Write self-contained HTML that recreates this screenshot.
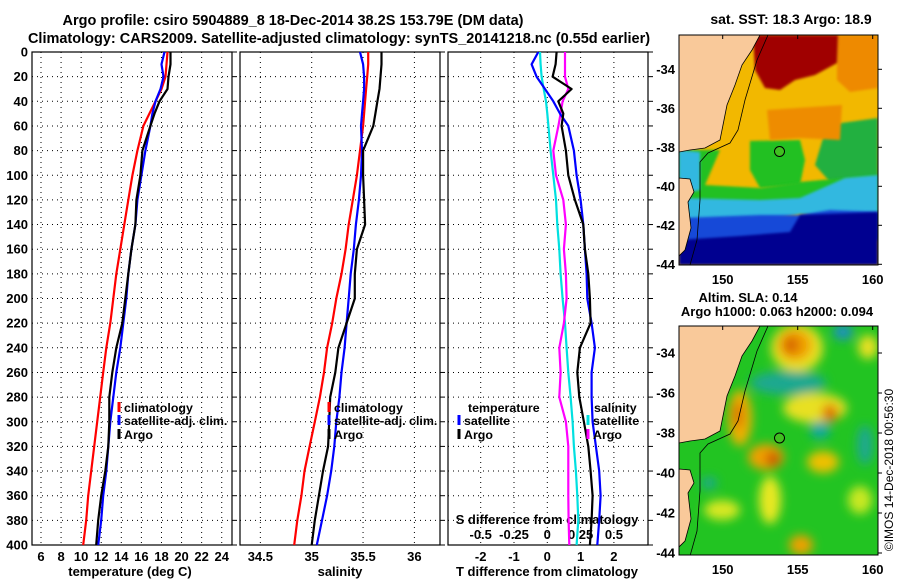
<!DOCTYPE html>
<html><head><meta charset="utf-8"><title>Argo profile</title>
<style>
html,body{margin:0;padding:0;background:#fff;}
svg{display:block;font-family:"Liberation Sans",sans-serif;font-weight:bold;}
</style></head>
<body>
<svg id="chart" width="900" height="580" viewBox="0 0 900 580" xmlns="http://www.w3.org/2000/svg">
<defs>
<clipPath id="clipM1"><rect x="679" y="35" width="199" height="230"/></clipPath>
<clipPath id="clipM2"><rect x="679" y="326" width="199" height="229"/></clipPath>
<filter id="blur" x="-30%" y="-30%" width="160%" height="160%"><feGaussianBlur stdDeviation="5"/></filter>
<filter id="blur2"><feGaussianBlur stdDeviation="1.2"/></filter>
</defs>
<text x="293" y="25" font-size="14.5" text-anchor="middle">Argo profile: csiro 5904889_8 18-Dec-2014 38.2S 153.79E (DM data)</text>
<text x="339" y="43" font-size="14.5" text-anchor="middle">Climatology: CARS2009. Satellite-adjusted climatology: synTS_20141218.nc (0.55d earlier)</text>

<!-- SST map -->
<g>
<text x="791" y="24" font-size="14" text-anchor="middle">sat. SST: 18.3 Argo: 18.9</text>
<g clip-path="url(#clipM1)">
<rect x="679" y="35" width="199" height="230" fill="#f2b800"/>
<polygon fill="#22c022" filter="url(#blur2)" points="750,141 800,140 805,160 800,185 760,188 750,170"/>
<polygon fill="#22b040" filter="url(#blur2)" points="827,125 878,118 878,180 830,182 815,165"/>
<polygon fill="#22c022" filter="url(#blur2)" points="679,150 720,150 705,185 760,188 800,182 878,175 878,212 679,212"/>
<polygon fill="#ee8c00" filter="url(#blur2)" points="767,110 842,105 840,140 800,138 770,140"/>
<polygon fill="#ee8a00" filter="url(#blur2)" points="837,35 878,35 878,88 850,92 837,80"/>
<polygon fill="#a00000" filter="url(#blur2)" points="753,35 838,35 837,63 815,75 795,80 780,90 765,88 755,70"/>
<polygon fill="#30b8e0" filter="url(#blur2)" points="679,150 700,152 700,190 679,195"/>
<polygon fill="#30b8e0" filter="url(#blur2)" points="679,198 760,200 800,198 845,178 878,175 878,222 800,214 760,222 679,225"/>
<polygon fill="#1848d8" filter="url(#blur2)" points="679,218 760,215 800,215 830,210 878,212 878,240 679,244"/>
<polygon fill="#000090" filter="url(#blur2)" points="679,240 740,236 790,232 800,215 878,212 878,265 679,265"/>
<polygon fill="#f9c99a" stroke="#000" stroke-width="0.8" points="679,35 760,35 752,50 742,65 735,85 727,105 723,125 720,140 705,148 690,150 679,152"/>
<polygon fill="#f9c99a" stroke="#000" stroke-width="0.8" points="679,178 690,179 694,192 688,202 691,228 685,250 679,256"/>
<polyline fill="none" stroke="#000" stroke-width="0.8" points="768,35 757,60 745,100 738,130 730,143 708,153 700,162 700,200 697,240 690,265"/>
</g>
<rect x="679" y="35" width="199" height="230" fill="none" stroke="#000" stroke-width="1"/>
<circle cx="779.5" cy="151.5" r="5" fill="#40c020" stroke="#000" stroke-width="1"/>
</g>

<!-- SLA map -->
<g>
<text x="748" y="302" font-size="13" text-anchor="middle">Altim. SLA: 0.14</text>
<text x="777" y="316" font-size="13" text-anchor="middle">Argo h1000: 0.063 h2000: 0.094</text>
<g clip-path="url(#clipM2)">
<rect x="679" y="326" width="199" height="229" fill="#22c422"/>
<g filter="url(#blur)">
<ellipse cx="797" cy="348" rx="26" ry="24" fill="#e8e020"/>
<ellipse cx="795" cy="345" rx="17" ry="16" fill="#f0a000"/>
<ellipse cx="791" cy="345" rx="8" ry="9" fill="#d86800"/>
<ellipse cx="843" cy="332" rx="10" ry="8" fill="#1a90c0"/>
<ellipse cx="868" cy="347" rx="10" ry="12" fill="#e8e020"/>
<ellipse cx="788" cy="383" rx="38" ry="12" fill="#1aa890"/>
<ellipse cx="740" cy="418" rx="12" ry="28" fill="#f0b000"/>
<ellipse cx="738" cy="415" rx="5" ry="14" fill="#d87000"/>
<ellipse cx="766" cy="457" rx="18" ry="13" fill="#f0a000"/>
<ellipse cx="773" cy="459" rx="7" ry="7" fill="#c85000"/>
<ellipse cx="815" cy="408" rx="32" ry="15" fill="#e8e020"/>
<ellipse cx="830" cy="413" rx="8" ry="9" fill="#e07000"/>
<ellipse cx="820" cy="430" rx="10" ry="9" fill="#10a8a0"/>
<ellipse cx="823" cy="462" rx="16" ry="11" fill="#f0c000"/>
<ellipse cx="770" cy="500" rx="11" ry="24" fill="#e8e820"/>
<ellipse cx="722" cy="510" rx="18" ry="10" fill="#d8e820"/>
<ellipse cx="709" cy="483" rx="8" ry="6" fill="#1aa890"/>
<ellipse cx="801" cy="545" rx="12" ry="10" fill="#f0a000"/>
<ellipse cx="860" cy="500" rx="12" ry="14" fill="#c8e820"/>
<ellipse cx="865" cy="445" rx="8" ry="20" fill="#1aa890"/>
</g>
<g transform="translate(0,291)">
<polygon fill="#f9c99a" stroke="#000" stroke-width="0.8" points="679,35 760,35 752,50 742,65 735,85 727,105 723,125 720,140 705,148 690,150 679,152"/>
<polygon fill="#f9c99a" stroke="#000" stroke-width="0.8" points="679,178 690,179 694,192 688,202 691,228 685,250 679,256"/>
<polyline fill="none" stroke="#000" stroke-width="0.8" points="768,35 757,60 745,100 738,130 730,143 708,153 700,162 700,200 697,240 690,265"/>
</g>
</g>
<rect x="679" y="326" width="199" height="229" fill="none" stroke="#000" stroke-width="1"/>
<circle cx="779.5" cy="438" r="5" fill="#40c020" stroke="#000" stroke-width="1"/>
</g>
<text transform="translate(893,470) rotate(-90)" font-size="12" font-weight="normal" text-anchor="middle">©IMOS 14-Dec-2018 00:56:30</text>

<g id="plots"></g>
</svg>
<script>
// ---- data ----
const depths = [0,10,20,30,40,50,60,80,100,120,140,160,180,200,220,240,260,280,300,320,340,360,380,400];
const tClim = [18.6,18.5,18.4,18.0,17.4,16.8,16.2,15.6,15.1,14.7,14.3,13.9,13.5,13.2,12.9,12.5,12.2,11.9,11.6,11.3,11.0,10.7,10.5,10.2];
const tSat = [18.3,18.0,18.2,17.9,17.4,17.1,16.9,16.4,16.0,15.6,15.4,15.0,14.7,14.5,14.2,13.9,13.5,13.2,12.9,12.7,12.5,12.2,12.0,11.7];
const tArgo = [18.9,18.9,18.7,18.6,17.8,17.3,16.9,16.1,15.9,15.5,15.4,15.0,14.7,14.4,14.1,13.5,13.1,12.8,12.8,12.7,12.4,12.0,11.7,11.5];
const sClim = [35.55,35.55,35.54,35.53,35.52,35.51,35.5,35.47,35.44,35.40,35.36,35.33,35.29,35.24,35.20,35.15,35.12,35.08,35.03,34.98,34.93,34.9,34.86,34.83];
const sSat = [35.47,35.50,35.51,35.51,35.5,35.49,35.48,35.49,35.48,35.46,35.43,35.41,35.38,35.36,35.34,35.32,35.29,35.27,35.24,35.22,35.19,35.15,35.10,35.05];
const sArgo = [35.68,35.68,35.67,35.66,35.64,35.62,35.60,35.50,35.50,35.51,35.52,35.44,35.42,35.42,35.34,35.26,35.23,35.18,35.17,35.16,35.11,35.07,35.03,35.0];
const dTsat = [-0.27,-0.47,-0.32,-0.07,0.18,0.38,0.63,0.8,0.88,1.0,1.08,1.13,1.18,1.2,1.33,1.43,1.33,1.33,1.36,1.46,1.56,1.6,1.56,1.5];
const dTargo = [0.28,0.25,0.16,0.73,0.33,0.48,0.43,0.56,0.63,0.83,1.08,1.13,1.23,1.28,1.3,0.98,0.9,0.96,1.1,1.23,1.3,1.36,1.33,1.28];
const dSsat = [-0.055,-0.05,-0.043,-0.027,-0.01,0,0.008,0.025,0.045,0.065,0.075,0.09,0.1,0.115,0.133,0.145,0.158,0.175,0.19,0.2,0.215,0.225,0.233,0.22];
const dSargo = [0.133,0.133,0.133,0.158,0.115,0.1,0.083,0.045,0.065,0.12,0.14,0.125,0.14,0.145,0.125,0.09,0.1,0.09,0.14,0.158,0.158,0.158,0.16,0.165];
const depthTicks = [0,20,40,60,80,100,120,140,160,180,200,220,240,260,280,300,320,340,360,380,400];
const tTicks = [6,8,10,12,14,16,18,20,22,24];
const sTicks = [34.5,35,35.5,36];
const dTTicks = [-2,-1,0,1,2];
const dSTicks = [-0.5,-0.25,0,0.25,0.5];
const lonTicks = [150,155,160];
const latTicks1 = [-34,-36,-38,-40,-42,-44];

const NS='http://www.w3.org/2000/svg';
const root=document.getElementById('plots');
function el(tag,attrs,parent){const e=document.createElementNS(NS,tag);for(const k in attrs)e.setAttribute(k,attrs[k]);(parent||root).appendChild(e);return e;}
const yD = d => 52 + d*1.2325;
const xT = t => 41 + (t-6)*10.04;
const xS = s => 311.7 + (s-35)*102.7;
const xDT = t => 547.3 + t*33.3;
const xDS = s => xDT(s*4);
const panels=[[32,232],[240,440],[448,648]];
const FS=13;

panels.forEach((p,i)=>{
  const r=el('rect',{x:p[0],y:52,width:p[1]-p[0],height:493,fill:'none',stroke:'#000','stroke-width':1.2});
  
  
  depthTicks.forEach(d=>{
    if(d>0&&d<400){const g=el('line',{x1:p[0],x2:p[1],y1:yD(d),y2:yD(d),stroke:'#000','stroke-width':1,'stroke-dasharray':'1 4'});
    
    }
    const tk=el('line',{x1:p[1],x2:p[1]+5,y1:yD(d),y2:yD(d),stroke:'#000','stroke-width':1});
    
    
  });
});
depthTicks.forEach(d=>{
  const t=el('text',{x:28,y:yD(d)+4.5,'font-size':FS,'text-anchor':'end'});
  
  
  t.textContent=d;
});
function vgrid(ticks,fx,labels,ly){
  ticks.forEach(v=>{
    const x=fx(v);
    const g=el('line',{x1:x,x2:x,y1:52,y2:545,stroke:'#000','stroke-width':1,'stroke-dasharray':'1 4'});
    
    
    if(labels){const t=el('text',{x:x,y:ly,'font-size':FS,'text-anchor':'middle'});
    
    
    t.textContent=v;}
  });
}
vgrid(tTicks,xT,true,561);
vgrid(sTicks,xS,true,561);
vgrid(dTTicks,xDT,true,561);
dSTicks.forEach(v=>{
  const t=el('text',{x:xDS(v),y:539,'font-size':FS,'text-anchor':'middle'});
  
  
  t.textContent=v;
});
[['temperature (deg C)',130,'temperature-axis-title'],['salinity',340,'salinity-axis-title'],['T difference from climatology',547,'t-diff-axis-title']].forEach(a=>{
  const t=el('text',{x:a[1],y:576,'font-size':FS,'text-anchor':'middle'});
  
  
  t.textContent=a[0];
});
const st=el('text',{x:547,y:524,'font-size':FS,'text-anchor':'middle'});


st.textContent='S difference from climatology';

function line(vals,fx,color,name){
  const pts=vals.map((v,i)=>fx(v).toFixed(1)+','+yD(depths[i]).toFixed(1)).join(' ');
  const l=el('polyline',{points:pts,fill:'none',stroke:color,'stroke-width':2.2,'stroke-linejoin':'round'});
  
  
}
line(tClim,xT,'#ff0000','temp-climatology-line');
line(tSat,xT,'#0000ff','temp-satellite-line');
line(tArgo,xT,'#000000','temp-argo-line');
line(sClim,xS,'#ff0000','sal-climatology-line');
line(sSat,xS,'#0000ff','sal-satellite-line');
line(sArgo,xS,'#000000','sal-argo-line');
line(dSsat,xDS,'#00e0e0','s-diff-satellite-line');
line(dSargo,xDS,'#ff00ff','s-diff-argo-line');
line(dTsat,xDT,'#0000ff','t-diff-satellite-line');
line(dTargo,xDT,'#000000','t-diff-argo-line');

function legend(x,y,color,label,name){
  if(color){const m=el('line',{x1:x,x2:x,y1:y-10,y2:y,stroke:color,'stroke-width':3});
  
  }
  const t=el('text',{x:x+5,y:y,'font-size':12.4});
  
  
  t.textContent=label;
}
legend(119,412,'#ff0000','climatology','legend-t-climatology');
legend(119,425,'#0000ff','satellite-adj. clim.','legend-t-satellite');
legend(119,439,'#000000','Argo','legend-t-argo');
legend(329,412,'#ff0000','climatology','legend-s-climatology');
legend(329,425,'#0000ff','satellite-adj. clim.','legend-s-satellite');
legend(329,439,'#000000','Argo','legend-s-argo');
legend(463,412,null,'temperature','legend-temperature-header');
legend(459,425,'#0000ff','satellite','legend-dt-satellite');
legend(459,439,'#000000','Argo','legend-dt-argo');
legend(589,412,null,'salinity','legend-salinity-header');
legend(588,425,'#00e0e0','satellite','legend-ds-satellite');
legend(588,439,'#ff00ff','Argo','legend-ds-argo');

// map axes
const xLon = lon => 722.7 + (lon-150)*15;
const yLat1 = lat => 69.3 + (-34-lat)*19.5;
const yLat2 = lat => 353 + (-34-lat)*20;
[[yLat1,35,265,284],[yLat2,326,555,574]].forEach((m,j)=>{
  lonTicks.forEach(lon=>{
    const t=el('text',{x:xLon(lon),y:m[3],'font-size':FS,'text-anchor':'middle'});
    
    
    t.textContent=lon;
    const k=el('line',{x1:xLon(lon),x2:xLon(lon),y1:m[1],y2:m[1]+4,stroke:'#000'});
    
    
  });
  latTicks1.forEach(lat=>{
    const y=m[0](lat);
    const t=el('text',{x:675,y:y+4.5,'font-size':FS,'text-anchor':'end'});
    
    
    t.textContent=lat;
    const k=el('line',{x1:878,x2:882,y1:y,y2:y,stroke:'#000'});
    
    
  });
});
</script>
</body></html>
